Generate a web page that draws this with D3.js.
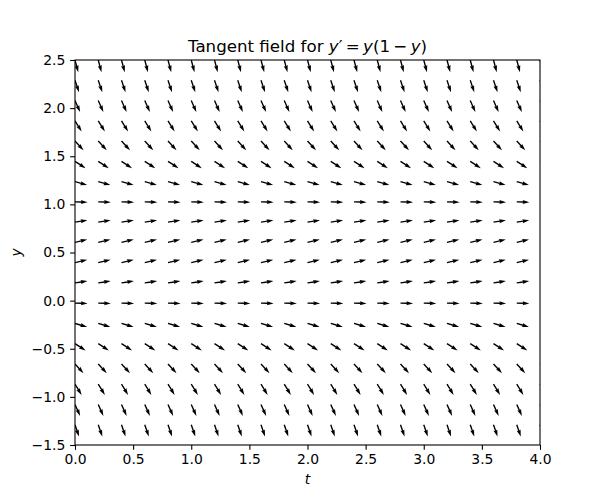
<!DOCTYPE html>
<html>
<head>
<meta charset="utf-8">
<script src="https://cdn.jsdelivr.net/npm/d3@7"></script>
<style>
  body { margin: 0; background: #fff; }
  svg { display: block; }
  text { font-family: "DejaVu Sans", sans-serif; }
</style>
</head>
<body>
<svg id="chart" width="600" height="500"></svg>
<script>
// Grid of t positions (columns)
const tValues = [0.0, 0.2, 0.4, 0.6, 0.8, 1.0, 1.2, 1.4, 1.6, 1.8, 2.0,
                 2.2, 2.4, 2.6, 2.8, 3.0, 3.2, 3.4, 3.6, 3.8, 4.0];
// Grid of y positions (rows)
const yValues = [-1.5, -1.289, -1.079, -0.868, -0.658, -0.447, -0.237, -0.026,
                 0.184, 0.395, 0.605, 0.816, 1.026, 1.237, 1.447, 1.658,
                 1.868, 2.079, 2.289, 2.5];
// Slope y' at each row
const slopes = [-3.75, -2.951, -2.243, -1.621, -1.091, -0.647, -0.293, -0.027,
                0.150, 0.239, 0.239, 0.150, -0.027, -0.293, -0.647, -1.091,
                -1.621, -2.243, -2.951, -3.75];
const xTicks = [0.0, 0.5, 1.0, 1.5, 2.0, 2.5, 3.0, 3.5, 4.0];
const yTicks = [-1.5, -1.0, -0.5, 0.0, 0.5, 1.0, 1.5, 2.0, 2.5];

const svg = d3.select("#chart");
const mLeft = 75, mRight = 540, mTop = 60, mBottom = 445;

const x = d3.scaleLinear().domain([0, 4]).range([mLeft, mRight]);
const y = d3.scaleLinear().domain([-1.5, 2.5]).range([mBottom, mTop]);

svg.append("defs").append("clipPath").attr("id", "clip")
  .append("rect").attr("x", mLeft).attr("y", mTop)
  .attr("width", mRight - mLeft).attr("height", mBottom - mTop);

// arrow geometry (matplotlib quiver defaults)
const w = 1.36, L = 12.6;
const hl = 5 * w, hal = 4.5 * w, hw = 1.5 * w;
const arrowPts = [[0, w / 2], [L - hal, w / 2], [L - hl, hw], [L, 0],
                  [L - hl, -hw], [L - hal, -w / 2], [0, -w / 2]];
const arrowPath = "M" + arrowPts.map(p => p.join(",")).join("L") + "Z";

const cells = [];
yValues.forEach((yv, i) => {
  tValues.forEach(tv => cells.push({t: tv, y: yv, s: slopes[i]}));
});

svg.append("g").attr("clip-path", "url(#clip)")
  .selectAll("path").data(cells).join("path")
  .attr("d", arrowPath)
  .attr("fill", "#000")
  .attr("transform", d => `translate(${x(d.t)},${y(d.y)}) rotate(${-Math.atan(d.s) * 180 / Math.PI})`);

// axes
const fmt = d => d3.format(".1f")(d).replace("-", "\u2212");
const xAxis = svg.append("g").attr("transform", `translate(0,${mBottom})`)
  .call(d3.axisBottom(x).tickValues(xTicks).tickFormat(fmt).tickSizeOuter(0).tickSize(4.86).tickPadding(4.2));
const yAxis = svg.append("g").attr("transform", `translate(${mLeft},0)`)
  .call(d3.axisLeft(y).tickValues(yTicks).tickFormat(fmt).tickSizeOuter(0).tickSize(4.86).tickPadding(4.86));
[xAxis, yAxis].forEach(g => {
  g.select(".domain").remove();
  g.selectAll("line").attr("stroke", "#000").attr("stroke-width", 1.1);
  g.selectAll("text").attr("fill", "#000").style("font-size", "13.9px").style("font-family", "DejaVu Sans");
});

// spines
svg.append("rect").attr("x", mLeft).attr("y", mTop)
  .attr("width", mRight - mLeft).attr("height", mBottom - mTop)
  .attr("fill", "none").attr("stroke", "#000").attr("stroke-width", 1.1);

// title
const title = svg.append("text").attr("x", (mLeft + mRight) / 2).attr("y", 51.7)
  .attr("text-anchor", "middle").style("font-size", "16.67px").attr("fill", "#000");
title.append("tspan").text("Tangent field for ");
title.append("tspan").style("font-style", "italic").text("y");
title.append("tspan").text("\u2032\u2009=\u2009");
title.append("tspan").style("font-style", "italic").text("y");
title.append("tspan").text("(1\u2009\u2212\u2009");
title.append("tspan").style("font-style", "italic").text("y");
title.append("tspan").text(")");

// axis labels
svg.append("text").attr("x", (mLeft + mRight) / 2).attr("y", 484)
  .attr("text-anchor", "middle").style("font-size", "13.9px").style("font-style", "italic").text("t");
svg.append("text").attr("transform", `translate(21,${(mTop + mBottom) / 2}) rotate(-90)`)
  .attr("text-anchor", "middle").style("font-size", "13.9px").style("font-style", "italic").text("y");
</script>
</body>
</html>
